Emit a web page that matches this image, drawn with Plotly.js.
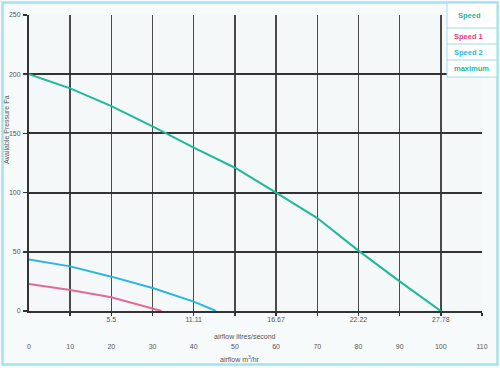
<!DOCTYPE html>
<html><head><meta charset="utf-8">
<script src="https://cdn.plot.ly/plotly-3.0.1.min.js"></script>
<style>html,body{margin:0;padding:0;background:#fff}#c{width:500px;height:368px}</style>
</head><body><div id="c"></div>
<script>
// airflow in m3/hr, pressure in Pa
const maxX = [0, 10, 20, 30, 40, 50, 60, 70, 80, 90, 100];
const maxY = [200, 188, 173, 156, 138, 121, 100, 78.5, 51, 25, 0];
const sp2X = [0, 10, 20, 30, 40, 45.4];
const sp2Y = [43.5, 37.7, 29, 19.4, 7.9, 0];
const sp1X = [0, 10, 20, 30, 32.2];
const sp1Y = [22.8, 17.7, 11.6, 2.5, 0];
const lpsTickVals = [20, 40, 60, 80, 100];
const lpsTickText = ['5.5', '11.11', '16.67', '22.22', '27.78'];
const m3TickVals = [0, 10, 20, 30, 40, 50, 60, 70, 80, 90, 100, 110];
const yTickVals = [0, 50, 100, 150, 200, 250];
const legendLabels = ['Speed 1', 'Speed 2', 'maximum'];
const legendColors = ['#e5397e', '#2bb5df', '#1fb898'];

const W = 500, H = 368, L = 29, R = 18, T = 15, B = 57;
const pw = W - L - R, ph = H - T - B;
const px = v => (v - L) / pw;
const py = v => (H - B - v) / ph;

const traces = [
  {x: sp1X, y: sp1Y, mode: 'lines', line: {color: '#e36a98', width: 2}, xaxis: 'x3', yaxis: 'y', hoverinfo: 'skip'},
  {x: sp2X, y: sp2Y, mode: 'lines', line: {color: legendColors[1], width: 2}, xaxis: 'x2', yaxis: 'y', hoverinfo: 'skip'},
  {x: maxX, y: maxY, mode: 'lines', line: {color: legendColors[2], width: 2}, xaxis: 'x', yaxis: 'y', hoverinfo: 'skip'}
];

const tickFont = {family: 'Liberation Sans, Arial, sans-serif', size: 7, color: '#555'};

const shapes = [
  {type: 'rect', xref: 'paper', yref: 'paper', x0: px(2.5), x1: px(497.5), y0: py(364.5), y1: py(2.5),
   line: {color: '#a6e2ec', width: 2.5}, fillcolor: 'rgba(0,0,0,0)', layer: 'above'},
  {type: 'rect', xref: 'paper', yref: 'paper', x0: px(447), x1: px(497), y0: py(77), y1: py(3),
   line: {color: '#9edde8', width: 1}, fillcolor: '#ffffff', layer: 'above'}
];
[28, 44, 60].forEach(yy => shapes.push({type: 'line', xref: 'paper', yref: 'paper', x0: px(447), x1: px(497),
  y0: py(yy), y1: py(yy), line: {color: '#9edde8', width: 1}, layer: 'above'}));

const annotations = [
  {text: 'Speed', xref: 'paper', yref: 'paper', x: px(469), y: py(15.5), showarrow: false,
   font: {family: 'Liberation Sans, Arial, sans-serif', size: 7.5, color: legendColors[2], weight: 'bold'}, xanchor: 'center', yanchor: 'middle'},
  {text: 'Available Pressure Pa', xref: 'paper', yref: 'paper', x: px(6), y: py(130), textangle: -90, showarrow: false,
   font: tickFont, xanchor: 'center', yanchor: 'middle'},
  {text: 'airflow litres/second', xref: 'paper', yref: 'paper', x: px(245), y: py(336), showarrow: false,
   font: tickFont, xanchor: 'center', yanchor: 'middle'},
  {text: 'airflow m<sup>3</sup>/hr', xref: 'paper', yref: 'paper', x: px(240), y: py(359), showarrow: false,
   font: tickFont, xanchor: 'center', yanchor: 'middle'}
];
legendLabels.forEach((t, i) => annotations.push({text: t, xref: 'paper', yref: 'paper', x: px(452), y: py(36 + 16 * i),
  showarrow: false, font: {family: 'Liberation Sans, Arial, sans-serif', size: 7.5, color: legendColors[i], weight: 'bold'},
  xanchor: 'left', yanchor: 'middle'}));

const layout = {
  width: W, height: H,
  margin: {l: L, r: R, t: T, b: B, pad: 0},
  paper_bgcolor: '#f7fafa', plot_bgcolor: '#f4f8f8',
  showlegend: false,
  xaxis: {range: [0, 110], tickvals: m3TickVals.slice(1), showticklabels: false,
          showgrid: true, gridcolor: '#4a4a4a', gridwidth: 1.5, zeroline: false, showline: true, linecolor: '#333', linewidth: 2,
          ticks: 'outside', ticklen: 3, tickcolor: '#333', tickwidth: 1.5, fixedrange: true},
  xaxis2: {range: [0, 110], overlaying: 'x', matches: 'x', anchor: 'y', side: 'bottom', tickvals: lpsTickVals, ticktext: lpsTickText,
           showgrid: false, zeroline: false, showline: false, ticks: '', color: '#555', tickfont: tickFont, ticklabelstandoff: 3, fixedrange: true},
  xaxis3: {range: [0, 110], overlaying: 'x', matches: 'x', anchor: 'y', side: 'bottom', tickvals: m3TickVals,
           showgrid: false, zeroline: false, showline: false, ticks: '', color: '#555', tickfont: tickFont, ticklabelstandoff: 30, fixedrange: true},
  yaxis: {range: [0, 250], tickvals: yTickVals, tickfont: tickFont, showgrid: true, gridcolor: '#333', gridwidth: 2,
          zeroline: false, showline: true, linecolor: '#333', linewidth: 2, ticks: 'outside', ticklen: 4, tickcolor: '#333',
          tickwidth: 1.5, ticklabelstandoff: 1, fixedrange: true},
  shapes: shapes,
  annotations: annotations
};
Plotly.newPlot('c', traces, layout, {staticPlot: true});
</script></body></html>
